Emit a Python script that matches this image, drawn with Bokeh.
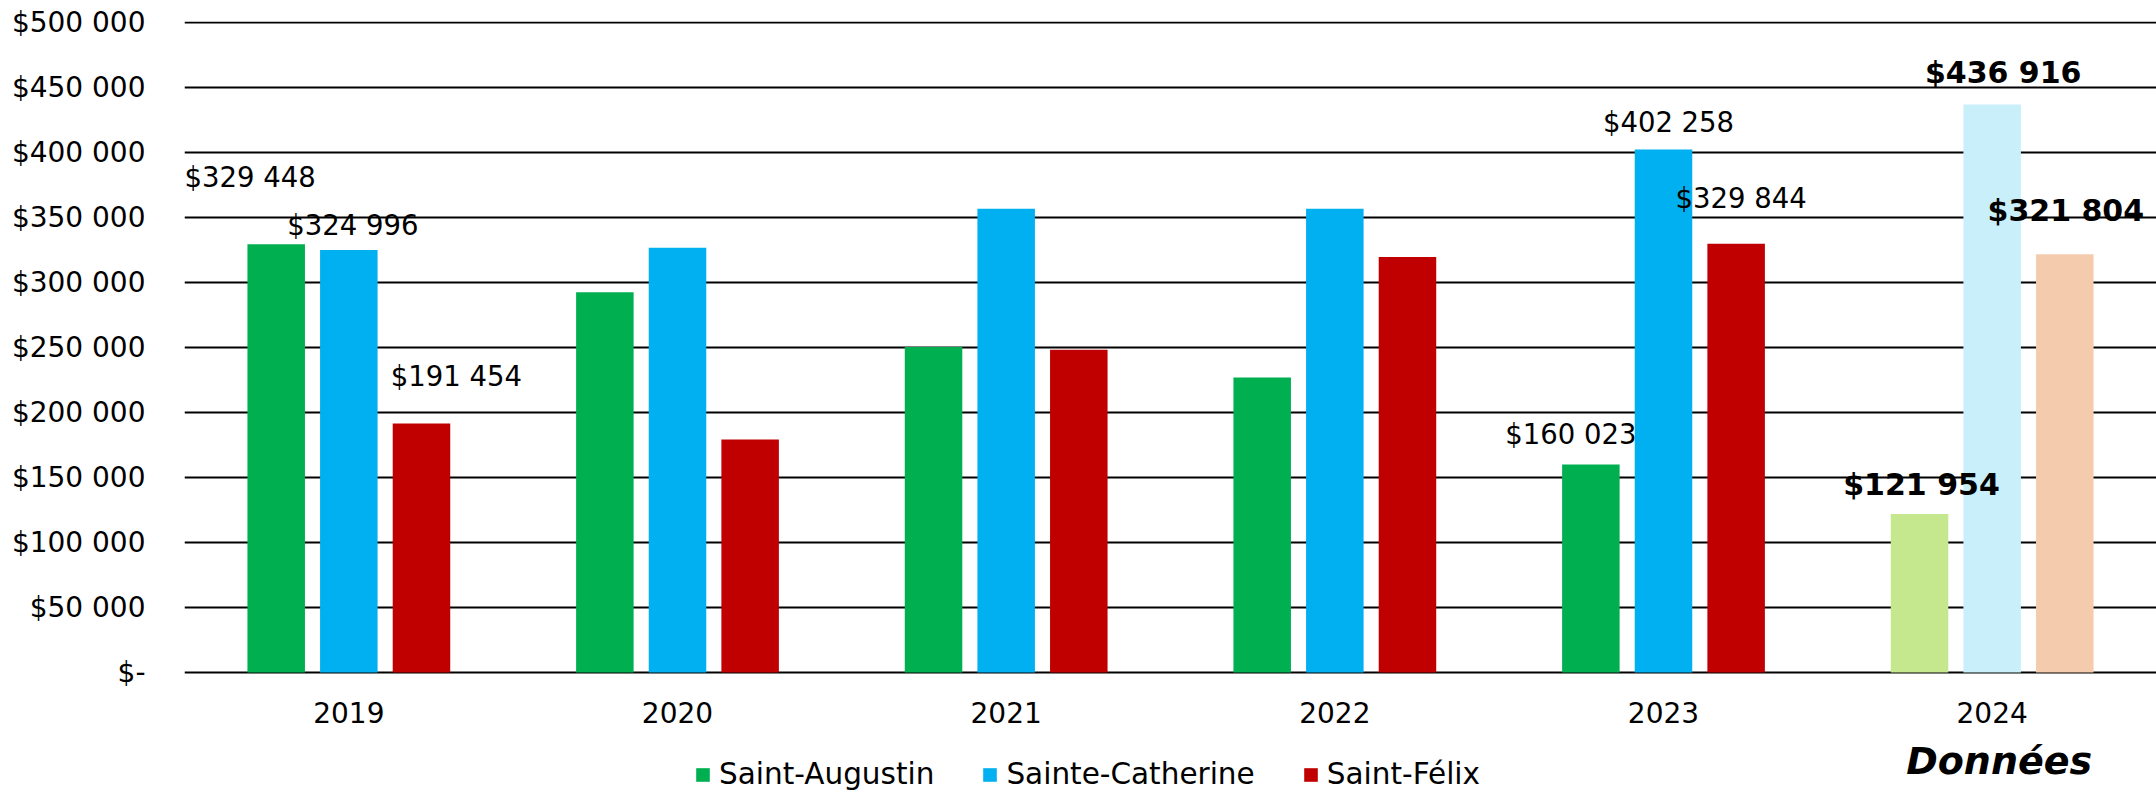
from bokeh.plotting import figure
from bokeh.models import (ColumnDataSource, Range1d, FixedTicker, Legend, LegendItem,
                          CDSView, IndexFilter)
from bokeh.transform import dodge
from bokeh.core.properties import value
from bokeh.embed import file_html
from bokeh.resources import INLINE

# ---------------- data ----------------
years = ["2019", "2020", "2021", "2022", "2023", "2024"]
saint_augustin = [329448, 292500, 250400, 226900, 160023, 121954]
sainte_catherine = [324996, 326700, 356700, 356700, 402258, 436916]
saint_felix = [191454, 179200, 248200, 319700, 329844, 321804]
series_names = ["Saint-Augustin", "Sainte-Catherine", "Saint-Félix"]
tick_values = [0, 50000, 100000, 150000, 200000, 250000, 300000, 350000, 400000, 450000, 500000]
tick_labels = ["$-", "$50 000", "$100 000", "$150 000", "$200 000", "$250 000",
               "$300 000", "$350 000", "$400 000", "$450 000", "$500 000"]
labelled_years = ["2019", "2023", "2024"]
highlight_year = "2024"
axis_title = "Données"

# ---------------- styling ----------------
FONT = "DejaVu Sans"
colors = ["#00B050", "#00B0F0", "#C00000"]
light_colors = ["#C5E88F", "#C9F0FA", "#F5CBAE"]
bar_offsets = [-0.221, 0.0, 0.221]
bar_width = 0.175
# label offsets (pixels) relative to the top-centre of each bar, per series, per labelled year
label_dx = [[-26, -20, 2], [4, 5, 11], [35, 5, 1]]
label_dy = [[-67, -30, -29], [-25, -28, -32], [-48, -46, -44]]

W, H = 2156, 794
LEFT, TOP = 184, 21
BASE_Y = 672          # pixel row of the value 0
PX_PER_UNIT = 650 / 500000
y_top = 500000 + (BASE_Y - 650 - TOP) / PX_PER_UNIT
y_bottom = -(H - BASE_Y) / PX_PER_UNIT

all_series = [saint_augustin, sainte_catherine, saint_felix]
cx = [i + 0.5 for i in range(len(years))]
hi = years.index(highlight_year)
normal_idx = [i for i in range(len(years)) if i != hi]

p = figure(width=W, height=H,
           x_range=Range1d(0, len(years)), y_range=Range1d(y_bottom, y_top),
           output_backend="svg", toolbar_location=None, x_axis_location=None,
           min_border_left=LEFT, min_border_right=0, min_border_top=TOP, min_border_bottom=0)
p.outline_line_color = None
p.background_fill_color = "white"
p.border_fill_color = "white"

# y axis
p.yaxis.ticker = FixedTicker(ticks=tick_values)
p.yaxis.major_label_overrides = {v: l for v, l in zip(tick_values, tick_labels)}
p.yaxis.axis_line_color = None
p.yaxis.major_tick_line_color = None
p.yaxis.minor_tick_line_color = None
p.yaxis.major_tick_out = 0
p.yaxis.major_tick_in = 0
p.yaxis.major_label_standoff = 39
p.yaxis.major_label_text_font = FONT
p.yaxis.major_label_text_font_size = "28px"
p.yaxis.major_label_text_color = "black"

p.xgrid.visible = False
p.ygrid.ticker = FixedTicker(ticks=tick_values)
p.ygrid.grid_line_color = "black"
p.ygrid.grid_line_width = 2

legend_items = []
label_sets = []
for k, (name, vals) in enumerate(zip(series_names, all_series)):
    src = ColumnDataSource(dict(x=cx, v=vals, year=years))
    r_main = p.vbar(x=dodge("x", bar_offsets[k], range=p.x_range), top="v", width=bar_width,
                    source=src, view=CDSView(filter=IndexFilter(normal_idx)),
                    fill_color=colors[k], line_color=None)
    p.vbar(x=dodge("x", bar_offsets[k], range=p.x_range), top="v", width=bar_width,
           source=src, view=CDSView(filter=IndexFilter([hi])),
           fill_color=light_colors[k], line_color=None)
    legend_items.append(LegendItem(label=name, renderers=[r_main]))

    for bold in (False, True):
        xs, ys, texts, dxs, dys = [], [], [], [], []
        for j, yr in enumerate(labelled_years):
            if (yr == highlight_year) != bold:
                continue
            i = years.index(yr)
            xs.append(cx[i] + bar_offsets[k])
            ys.append(vals[i])
            texts.append("$" + f"{vals[i]:,}".replace(",", " "))
            dxs.append(label_dx[k][j])
            dys.append(label_dy[k][j])
        label_sets.append((bold, dict(x=xs, y=ys, text=texts, dx=dxs, dy=dys)))

# data labels drawn above all bars
for bold, d in label_sets:
    p.text(x="x", y="y", text="text", x_offset="dx", y_offset="dy",
           source=ColumnDataSource(d),
           text_align="center", text_baseline="alphabetic",
           text_font=value(FONT), text_font_size="30px" if bold else "27.5px",
           text_font_style="bold" if bold else "normal", text_color="black")

# category labels (x axis)
p.text(x=cx, y=[0] * len(cx), text=years, y_offset=40,
       text_align="center", text_baseline="middle",
       text_font=value(FONT), text_font_size="28px", text_color="black")

# axis title
p.text(x=[cx[hi]], y=[0], text=[axis_title], x_offset=7, y_offset=88,
       text_align="center", text_baseline="middle",
       text_font=value(FONT), text_font_size="38px", text_font_style="bold italic",
       text_color="black")

legend = Legend(items=legend_items, orientation="horizontal", location=(510, 3),
                padding=0, margin=0, spacing=47, label_standoff=8,
                glyph_width=17, glyph_height=17,
                label_text_font=FONT, label_text_font_size="29.5px",
                label_text_color="black",
                border_line_color=None, background_fill_alpha=0)
p.add_layout(legend)

open("out.html", "w").write(file_html(p, INLINE))
